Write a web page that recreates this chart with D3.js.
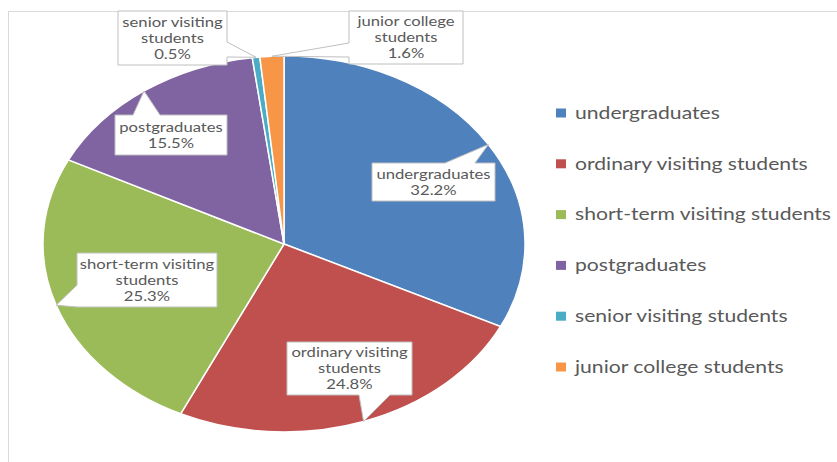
<!DOCTYPE html>
<html>
<head>
<meta charset="utf-8">
<script src="https://cdn.jsdelivr.net/npm/d3@7"></script>
<style>
    body { margin: 0; background: #fff; }
    svg { display: block; }
</style>
</head>
<body>
<div class="chart"></div>
<script>
// data
const categories = ["undergraduates", "ordinary visiting students", "short-term visiting students",
    "postgraduates", "senior visiting students", "junior college students"]
const shares = [32.2, 24.8, 25.3, 15.5, 0.5, 1.6]
const shareLabels = ["32.2%", "24.8%", "25.3%", "15.5%", "0.5%", "1.6%"]
const calloutLines = [["undergraduates"], ["ordinary visiting", "students"], ["short-term visiting", "students"],
    ["postgraduates"], ["senior visiting", "students"], ["junior college", "students"]]
const colors = ["#4F81BD", "#C0504D", "#9BBB59", "#8064A2", "#4BACC6", "#F79646"]

// callout boxes (layout only): box, side the tail leaves from, tail base span
const callouts = [
    { x: 372, y: 163, w: 123, h: 38, side: "top", a: 445, b: 475 },
    { x: 287, y: 342, w: 125, h: 53, side: "bottom", a: 359, b: 390 },
    { x: 77, y: 253, w: 140, h: 54, side: "left", a: 285, b: 307 },
    { x: 115, y: 115, w: 112, h: 40, side: "top", a: 133, b: 160 },
    { x: 118, y: 11, w: 109, h: 54, side: "right", a: 42, b: 57 },
    { x: 349, y: 11, w: 114, h: 53, side: "left", a: 43, b: 57 }
]

let width = 837, height = 462
let cx = 284, cy = 244, rx = 241, ry = 188
let sx = rx / ry   // the whole picture is stretched sideways, text included
let textColor = "#595959", font = "Lato, 'Open Sans', sans-serif"

let svg = d3.select(".chart")
    .append("svg")
    .attr("width", width)
    .attr("height", height)

// outer chart frame
svg.append("rect")
    .attr("x", 8.5)
    .attr("y", 11.5)
    .attr("width", width + 20)
    .attr("height", height + 20)
    .attr("fill", "#fff")
    .attr("stroke", "#d9d9d9")

let pie = d3.pie().sort(null).value((d) => d)
let arcs = pie(shares)
let arc = d3.arc().innerRadius(0).outerRadius(ry)

// pie is drawn as a circle then stretched horizontally into the ellipse
svg.append("g")
    .attr("transform", `translate(${cx},${cy}) scale(${sx},1)`)
    .selectAll("path")
    .data(arcs)
    .enter()
    .append("path")
    .attr("d", arc)
    .attr("fill", (d, i) => colors[i])
    .attr("stroke", "#fff")
    .attr("stroke-width", 1.5)
    .attr("vector-effect", "non-scaling-stroke")

function tipOf(d) {
    let a = (d.startAngle + d.endAngle) / 2
    return [cx + rx * Math.sin(a), cy - ry * Math.cos(a)]
}

function calloutPath(c, tip) {
    let x0 = c.x, y0 = c.y, x1 = c.x + c.w, y1 = c.y + c.h
    let t = `${tip[0]},${tip[1]}`
    if (c.side == "top")
        return `M${x0},${y0}L${c.a},${y0}L${t}L${c.b},${y0}L${x1},${y0}L${x1},${y1}L${x0},${y1}Z`
    if (c.side == "bottom")
        return `M${x0},${y0}L${x1},${y0}L${x1},${y1}L${c.b},${y1}L${t}L${c.a},${y1}L${x0},${y1}Z`
    if (c.side == "left")
        return `M${x0},${y0}L${x1},${y0}L${x1},${y1}L${x0},${y1}L${x0},${c.b}L${t}L${x0},${c.a}Z`
    return `M${x0},${y0}L${x1},${y0}L${x1},${c.a}L${t}L${x1},${c.b}L${x1},${y1}L${x0},${y1}Z`
}

let labels = svg.append("g")
arcs.forEach((d, i) => {
    let c = callouts[i]
    labels.append("path")
        .attr("d", calloutPath(c, tipOf(d)))
        .attr("fill", "#fff")
        .attr("stroke", "#bfbfbf")
        .attr("stroke-width", 1)
    let lines = calloutLines[i].concat([shareLabels[i]])
    let mid = c.y + c.h / 2
    labels.append("g")
        .selectAll("text")
        .data(lines)
        .enter()
        .append("text")
        .attr("transform", (t, k) => `translate(${c.x + c.w / 2},${mid + (k - (lines.length - 1) / 2) * 16}) scale(${sx},1)`)
        .attr("dy", "0.35em")
        .attr("text-anchor", "middle")
        .attr("font-family", font)
        .attr("font-size", 13)
        .attr("fill", textColor)
        .text((t) => t)
})

// legend
let legendY = d3.scalePoint().domain(categories).range([113, 367])
let legend = svg.append("g")
legend.selectAll("rect")
    .data(categories)
    .enter()
    .append("rect")
    .attr("x", 556)
    .attr("y", (d) => legendY(d) - 4.5)
    .attr("width", 10)
    .attr("height", 9)
    .attr("fill", (d, i) => colors[i])
legend.selectAll("text")
    .data(categories)
    .enter()
    .append("text")
    .attr("transform", (d) => `translate(575,${legendY(d)}) scale(${sx},1)`)
    .attr("dy", "0.35em")
    .attr("font-family", font)
    .attr("font-size", 16.5)
    .attr("fill", textColor)
    .text((d) => d)
</script>
</body>
</html>
